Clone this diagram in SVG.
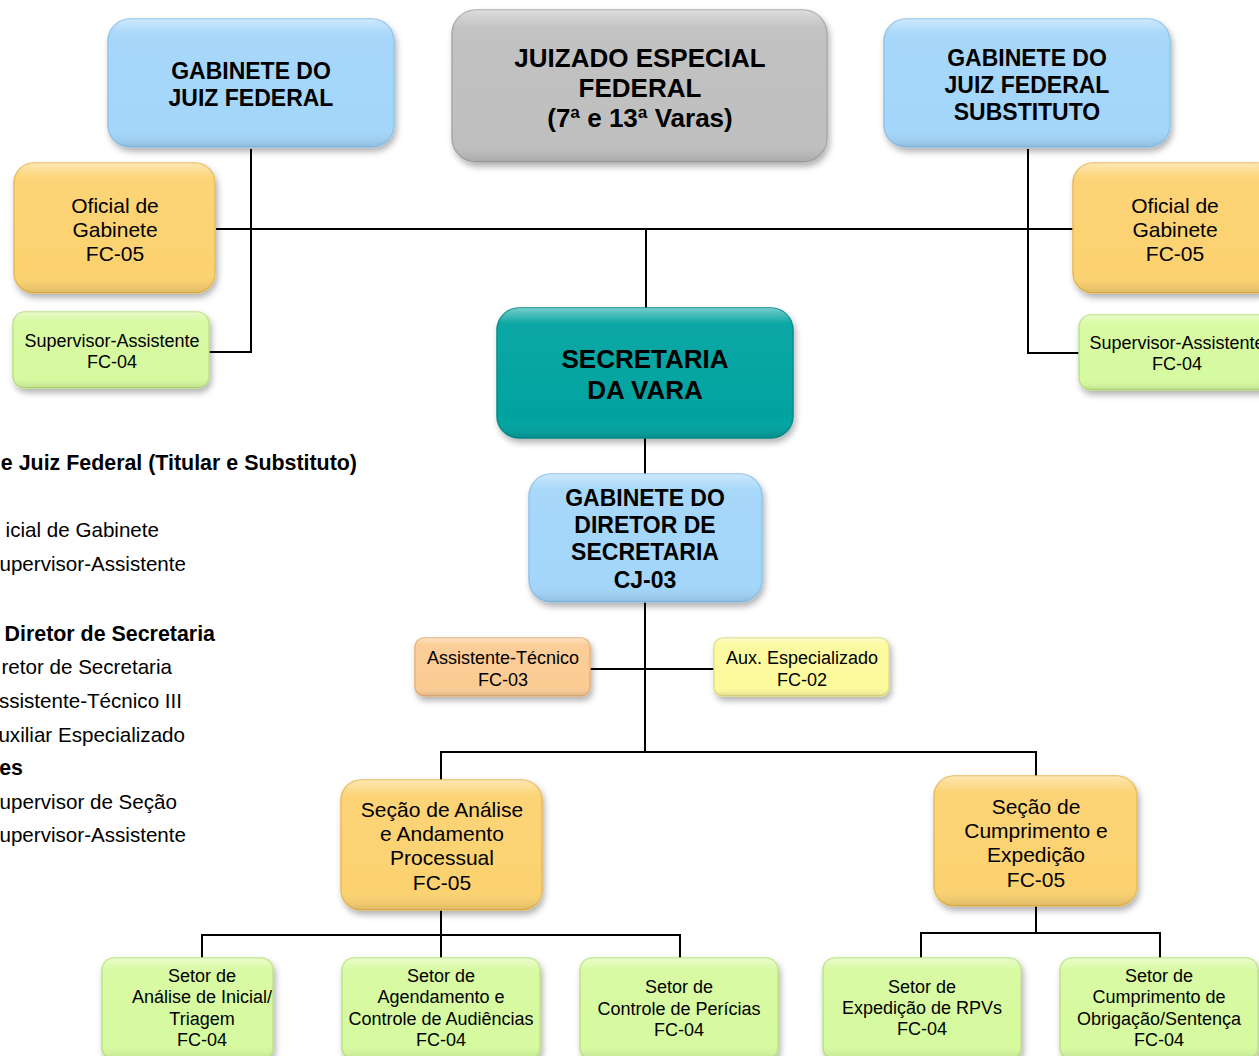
<svg xmlns="http://www.w3.org/2000/svg" width="1259" height="1056" viewBox="0 0 1259 1056">
<defs>
<filter id="sh" x="-10%" y="-10%" width="125%" height="135%">
<feDropShadow dx="2" dy="4" stdDeviation="3" flood-color="#000" flood-opacity="0.3"/>
</filter>
<linearGradient id="bev" x1="0" y1="0" x2="0" y2="1">
<stop offset="0" stop-color="#fff" stop-opacity="0.45"/>
<stop offset="0.12" stop-color="#fff" stop-opacity="0.05"/>
<stop offset="0.85" stop-color="#fff" stop-opacity="0"/>
<stop offset="1" stop-color="#000" stop-opacity="0.12"/>
</linearGradient>
</defs>
<style>
.box{filter:url(#sh);stroke-width:1.5}
.bev{fill:url(#bev);stroke:none}
.blue{fill:#A3D6FA;stroke:#8EC3EA}
.grey{fill:#BFBFBF;stroke:#A8A8A8}
.teal{fill:#05A3A0;stroke:#038C89}
.orange{fill:#FCD270;stroke:#E8BB58}
.green{fill:#D6FA9F;stroke:#BCE283}
.peach{fill:#FBCB93;stroke:#E5B27A}
.yellow{fill:#FCFA9C;stroke:#E2E082}
text{font-family:"Liberation Sans",Arial,sans-serif;fill:#000;text-anchor:middle}
.b23{font-size:23px;font-weight:bold}
.b26{font-size:26px;font-weight:bold}
.r21{font-size:21px}
.r18{font-size:18px}
.leg{font-size:20.6px;text-anchor:end}
.legb{font-size:21.4px;font-weight:bold;text-anchor:end}
.conn{fill:none;stroke:#000;stroke-width:2}
</style>
<rect width="1259" height="1056" fill="#fff"/>

<g id="connectors" class="conn">
<path d="M251 149 V352 H209"/>
<path d="M216 229 H1073"/>
<path d="M1028 149 V353 H1079"/>
<path d="M646 229 V308"/>
<path d="M645 438 V474"/>
<path d="M645 602 V752"/>
<path d="M590 669 H714"/>
<path d="M441 780 V752 H1036 V776"/>
<path d="M441 910 V958"/>
<path d="M202 958 V935 H680 V958"/>
<path d="M1036 906 V933"/>
<path d="M921 958 V933 H1160 V958"/>
</g>

<g id="legend">
<text class="legb" x="357" y="470">e Juiz Federal (Titular e Substituto)</text>
<text class="leg" x="159" y="537">icial de Gabinete</text>
<text class="leg" x="186" y="571">upervisor-Assistente</text>
<text class="legb" x="215" y="641">Diretor de Secretaria</text>
<text class="leg" x="172" y="674">retor de Secretaria</text>
<text class="leg" x="182" y="708">ssistente-Técnico III</text>
<text class="leg" x="185" y="742">uxiliar Especializado</text>
<text class="legb" x="23" y="775">es</text>
<text class="leg" x="177" y="809">upervisor de Seção</text>
<text class="leg" x="186" y="842">upervisor-Assistente</text>
</g>

<g id="gabinete-juiz">
<rect class="box blue" x="108" y="19" width="286" height="128" rx="22"/>
<rect class="bev" x="108" y="19" width="286" height="128" rx="22"/>
<text class="b23"><tspan x="251" y="79">GABINETE DO</tspan><tspan x="251" y="106">JUIZ FEDERAL</tspan></text>
</g>

<g id="juizado">
<rect class="box grey" x="452" y="10" width="375" height="152" rx="24"/>
<rect class="bev" x="452" y="10" width="375" height="152" rx="24"/>
<text class="b26"><tspan x="640" y="67">JUIZADO ESPECIAL</tspan><tspan x="640" y="97">FEDERAL</tspan><tspan x="640" y="127">(7ª e 13ª Varas)</tspan></text>
</g>

<g id="gabinete-substituto">
<rect class="box blue" x="884" y="19" width="286" height="128" rx="22"/>
<rect class="bev" x="884" y="19" width="286" height="128" rx="22"/>
<text class="b23"><tspan x="1027" y="66">GABINETE DO</tspan><tspan x="1027" y="93">JUIZ FEDERAL</tspan><tspan x="1027" y="120">SUBSTITUTO</tspan></text>
</g>

<g id="oficial-esq">
<rect class="box orange" x="14" y="163" width="201" height="130" rx="20"/>
<rect class="bev" x="14" y="163" width="201" height="130" rx="20"/>
<text class="r21"><tspan x="115" y="213">Oficial de</tspan><tspan x="115" y="237">Gabinete</tspan><tspan x="115" y="261">FC-05</tspan></text>
</g>

<g id="supervisor-esq">
<rect class="box green" x="13" y="312" width="196" height="76" rx="12"/>
<rect class="bev" x="13" y="312" width="196" height="76" rx="12"/>
<text class="r18"><tspan x="112" y="347">Supervisor-Assistente</tspan><tspan x="112" y="368">FC-04</tspan></text>
</g>

<g id="oficial-dir">
<rect class="box orange" x="1073" y="163" width="204" height="130" rx="20"/>
<rect class="bev" x="1073" y="163" width="204" height="130" rx="20"/>
<text class="r21"><tspan x="1175" y="213">Oficial de</tspan><tspan x="1175" y="237">Gabinete</tspan><tspan x="1175" y="261">FC-05</tspan></text>
</g>

<g id="supervisor-dir">
<rect class="box green" x="1079" y="315" width="196" height="75" rx="12"/>
<rect class="bev" x="1079" y="315" width="196" height="75" rx="12"/>
<text class="r18"><tspan x="1177" y="349">Supervisor-Assistente</tspan><tspan x="1177" y="370">FC-04</tspan></text>
</g>

<g id="secretaria">
<rect class="box teal" x="497" y="308" width="296" height="130" rx="22"/>
<rect class="bev" x="497" y="308" width="296" height="130" rx="22"/>
<text class="b26"><tspan x="645" y="368">SECRETARIA</tspan><tspan x="645" y="399">DA VARA</tspan></text>
</g>

<g id="gabinete-diretor">
<rect class="box blue" x="529" y="474" width="233" height="128" rx="22"/>
<rect class="bev" x="529" y="474" width="233" height="128" rx="22"/>
<text class="b23"><tspan x="645" y="506">GABINETE DO</tspan><tspan x="645" y="533">DIRETOR DE</tspan><tspan x="645" y="560">SECRETARIA</tspan><tspan x="645" y="588">CJ-03</tspan></text>
</g>

<g id="assistente-tecnico">
<rect class="box peach" x="415" y="638" width="175" height="58" rx="9"/>
<rect class="bev" x="415" y="638" width="175" height="58" rx="9"/>
<text class="r18"><tspan x="503" y="664">Assistente-Técnico</tspan><tspan x="503" y="686">FC-03</tspan></text>
</g>

<g id="aux-especializado">
<rect class="box yellow" x="714" y="638" width="175" height="58" rx="9"/>
<rect class="bev" x="714" y="638" width="175" height="58" rx="9"/>
<text class="r18"><tspan x="802" y="664">Aux. Especializado</tspan><tspan x="802" y="686">FC-02</tspan></text>
</g>

<g id="secao-analise">
<rect class="box orange" x="341" y="780" width="201" height="130" rx="20"/>
<rect class="bev" x="341" y="780" width="201" height="130" rx="20"/>
<text class="r21"><tspan x="442" y="817">Seção de Análise</tspan><tspan x="442" y="841">e Andamento</tspan><tspan x="442" y="865">Processual</tspan><tspan x="442" y="890">FC-05</tspan></text>
</g>

<g id="secao-cumprimento">
<rect class="box orange" x="934" y="776" width="203" height="130" rx="20"/>
<rect class="bev" x="934" y="776" width="203" height="130" rx="20"/>
<text class="r21"><tspan x="1036" y="814">Seção de</tspan><tspan x="1036" y="838">Cumprimento e</tspan><tspan x="1036" y="862">Expedição</tspan><tspan x="1036" y="887">FC-05</tspan></text>
</g>

<g id="setor-triagem">
<rect class="box green" x="102" y="958" width="171" height="102" rx="12"/>
<rect class="bev" x="102" y="958" width="171" height="102" rx="12"/>
<text class="r18"><tspan x="202" y="982">Setor de</tspan><tspan x="202" y="1003">Análise de Inicial/</tspan><tspan x="202" y="1025">Triagem</tspan><tspan x="202" y="1046">FC-04</tspan></text>
</g>

<g id="setor-audiencias">
<rect class="box green" x="342" y="958" width="198" height="102" rx="12"/>
<rect class="bev" x="342" y="958" width="198" height="102" rx="12"/>
<text class="r18"><tspan x="441" y="982">Setor de</tspan><tspan x="441" y="1003">Agendamento e</tspan><tspan x="441" y="1025">Controle de Audiências</tspan><tspan x="441" y="1046">FC-04</tspan></text>
</g>

<g id="setor-pericias">
<rect class="box green" x="580" y="958" width="198" height="102" rx="12"/>
<rect class="bev" x="580" y="958" width="198" height="102" rx="12"/>
<text class="r18"><tspan x="679" y="993">Setor de</tspan><tspan x="679" y="1015">Controle de Perícias</tspan><tspan x="679" y="1036">FC-04</tspan></text>
</g>

<g id="setor-rpvs">
<rect class="box green" x="823" y="958" width="198" height="102" rx="12"/>
<rect class="bev" x="823" y="958" width="198" height="102" rx="12"/>
<text class="r18"><tspan x="922" y="993">Setor de</tspan><tspan x="922" y="1014">Expedição de RPVs</tspan><tspan x="922" y="1035">FC-04</tspan></text>
</g>

<g id="setor-obrigacao">
<rect class="box green" x="1060" y="958" width="198" height="102" rx="12"/>
<rect class="bev" x="1060" y="958" width="198" height="102" rx="12"/>
<text class="r18"><tspan x="1159" y="982">Setor de</tspan><tspan x="1159" y="1003">Cumprimento de</tspan><tspan x="1159" y="1025">Obrigação/Sentença</tspan><tspan x="1159" y="1046">FC-04</tspan></text>
</g>
</svg>
